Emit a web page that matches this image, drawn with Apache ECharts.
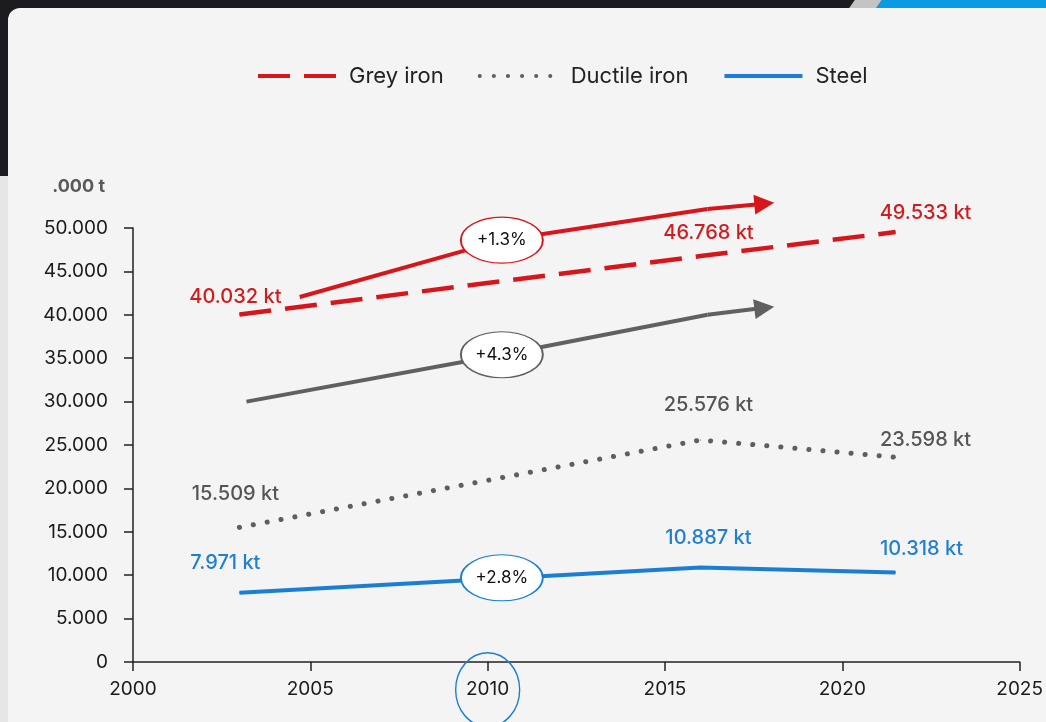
<!DOCTYPE html>
<html>
<head>
<meta charset="utf-8">
<script src="https://cdn.jsdelivr.net/npm/echarts@6/dist/echarts.min.js"></script>
<style>
  html, body { margin: 0; padding: 0; }
  body { width: 1046px; height: 722px; background: #1c1c20; position: relative; overflow: hidden; }
  #strip { position: absolute; left: 0; top: 176px; width: 8px; bottom: 0; background: #e6e6e6; border-right: 1px solid #dcdcdc; }
  #card { position: absolute; left: 8px; top: 8px; right: 0; bottom: 0; background: #f4f4f4; border-top-left-radius: 12px; }
  #bar-grey { position: absolute; top: 0; left: 852px; width: 30px; height: 8px; background: #c4c4c4; transform: skewX(-35deg); }
  #bar-blue { position: absolute; top: 0; left: 876px; right: -10px; height: 8px; background: #0b9be2; transform: skewX(-35deg); transform-origin: left bottom; }
  #chart { position: absolute; left: 0; top: 0; width: 1046px; height: 722px; }
</style>
</head>
<body>
<div id="strip"></div>
<div id="card"></div>
<div id="bar-grey"></div>
<div id="bar-blue"></div>
<div id="chart"></div>
<script>
// Production volumes in thousand tonnes (".000 t")
const years = [2003, 2016, 2021.5];
const greyIron = [40032, 46768, 49533];
const ductileIron = [15509, 25576, 23598];
const steel = [7971, 10887, 10318];

// Trend arrows and growth-rate badges
const greyTrend = [[2004.7, 42050], [2010.4, 48600], [2016.2, 52200], [2017.8, 52800]];
const ductileTrend = [[2003.2, 30000], [2010.4, 35400], [2016.2, 40000], [2017.8, 40800]];
const badges = [
  { label: '+1.3%', year: 2010.4, value: 48600, color: '#d7161c' },
  { label: '+4.3%', year: 2010.4, value: 35400, color: '#606060' },
  { label: '+2.8%', year: 2010.4, value: 9700, color: '#1a7fd4' }
];
const highlightYear = 2010;

const xTicks = { min: 2000, max: 2025, step: 5 };
const yTicks = { min: 0, max: 50000, step: 5000 };

const FONT = 'Inter';
const RED = '#d7161c';
const GREY = '#5e5e5e';
const BLUE = '#1a7fd4';

const fmt = v => {
  const s = Math.round(v).toString();
  return s.replace(/\B(?=(\d{3})+(?!\d))/g, '.');
};

// label offsets for each point of each series
const labelOffsets = {
  grey: [[-4, -2], [8, -8], [30, -4]],
  ductile: [[-4, -18], [8, -20], [30, -2]],
  steel: [[-14, -14], [8, -14], [26, -8]]
};

function buildData(vals, offsets, color) {
  return vals.map((v, i) => ({
    value: [years[i], v],
    label: {
      show: true,
      position: 'top',
      offset: offsets[i],
      formatter: fmt(v) + ' kt',
      color: color,
      fontFamily: FONT,
      fontWeight: 500,
      fontSize: 20
    }
  }));
}

// body of an arrow (all but the last segment) and its head segment
const arrowBody = pts => pts.slice(0, -1);
const arrowHead = pts => pts.slice(-2);

const chart = echarts.init(document.getElementById('chart'), null, { renderer: 'canvas' });

chart.setOption({
  backgroundColor: 'transparent',
  animation: false,
  textStyle: { fontFamily: FONT },
  legend: {
    data: ['Grey iron', 'Ductile iron', 'Steel'],
    left: 251,
    top: 60,
    itemWidth: 78,
    itemHeight: 14,
    itemGap: 34,
    itemStyle: { opacity: 0 },
    lineStyle: { width: 4 },
    textStyle: { fontFamily: FONT, fontSize: 22, color: '#222', padding: [0, 0, 0, 8] }
  },
  grid: { left: 133, right: 24, top: 228, bottom: 60, containLabel: false },
  xAxis: {
    type: 'value',
    min: xTicks.min,
    max: xTicks.max,
    interval: xTicks.step,
    splitLine: { show: false },
    axisLine: { lineStyle: { color: '#222', width: 1.5 } },
    axisTick: { show: true, length: 9, lineStyle: { color: '#222', width: 1.5 } },
    axisLabel: { margin: 18, fontSize: 19, color: '#1a1a1a', fontFamily: FONT, formatter: v => String(v) }
  },
  yAxis: {
    type: 'value',
    min: yTicks.min,
    max: yTicks.max,
    interval: yTicks.step,
    name: '.000 t',
    nameLocation: 'end',
    nameGap: 41,
    nameTextStyle: { fontFamily: FONT, fontSize: 18, fontWeight: 'bold', color: '#5a5a5a', align: 'right', verticalAlign: 'middle', padding: [0, 28, 0, 0] },
    splitLine: { show: false },
    axisLine: { show: true, lineStyle: { color: '#222', width: 1.5 } },
    axisTick: { show: true, length: 9, lineStyle: { color: '#222', width: 1.5 } },
    axisLabel: { margin: 25, fontSize: 19, color: '#1a1a1a', fontFamily: FONT, formatter: v => fmt(v) }
  },
  series: [
    {
      name: 'Grey iron',
      type: 'line',
      symbol: 'circle',
      symbolSize: 1,
      showSymbol: true,
      z: 3,
      lineStyle: { color: RED, width: 4.5, type: [32, 14], cap: 'butt' },
      itemStyle: { color: RED },
      data: buildData(greyIron, labelOffsets.grey, '#d01c1f')
    },
    {
      name: 'Ductile iron',
      type: 'line',
      symbol: 'circle',
      symbolSize: 1,
      showSymbol: true,
      z: 3,
      lineStyle: { color: GREY, width: 5, type: [0.1, 14], cap: 'round' },
      itemStyle: { color: GREY },
      data: buildData(ductileIron, labelOffsets.ductile, '#555')
    },
    {
      name: 'Steel',
      type: 'line',
      symbol: 'circle',
      symbolSize: 1,
      showSymbol: true,
      z: 3,
      lineStyle: { color: BLUE, width: 4 },
      itemStyle: { color: BLUE },
      data: buildData(steel, labelOffsets.steel, '#1f7fd1')
    },
    {
      name: 'trend',
      type: 'lines',
      coordinateSystem: 'cartesian2d',
      polyline: true,
      clip: false,
      z: 4,
      lineStyle: { width: 4, opacity: 1 },
      data: [
        { coords: arrowBody(greyTrend), lineStyle: { color: RED } },
        { coords: arrowBody(ductileTrend), lineStyle: { color: '#606060' } }
      ]
    },
    {
      name: 'trend heads',
      type: 'lines',
      coordinateSystem: 'cartesian2d',
      polyline: false,
      clip: false,
      z: 4,
      symbol: ['none', 'triangle'],
      symbolSize: 20,
      lineStyle: { width: 4, opacity: 1 },
      data: [
        { coords: arrowHead(greyTrend), lineStyle: { color: RED } },
        { coords: arrowHead(ductileTrend), lineStyle: { color: '#606060' } }
      ]
    },
    {
      name: 'badges',
      type: 'scatter',
      clip: false,
      z: 6,
      symbol: 'circle',
      symbolSize: [82, 46],
      data: badges.map(b => ({
        value: [b.year, b.value],
        itemStyle: { color: '#ffffff', opacity: 1, borderColor: b.color, borderWidth: 1.5 },
        label: { show: true, position: 'inside', formatter: b.label, color: '#111', fontFamily: FONT, fontSize: 17 }
      }))
    },
    {
      name: 'highlight',
      type: 'scatter',
      clip: false,
      z: 6,
      symbol: 'circle',
      symbolSize: [64, 74],
      itemStyle: { color: 'rgba(0,0,0,0)', opacity: 1, borderColor: BLUE, borderWidth: 1.5 },
      data: [[highlightYear, -3200]]
    }
  ]
});
</script>
</body>
</html>
